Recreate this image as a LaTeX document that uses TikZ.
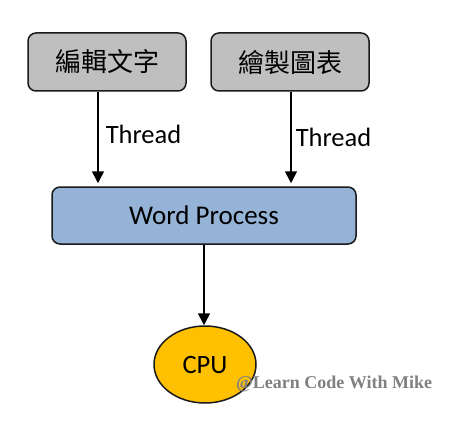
\documentclass[tikz,border=0pt]{standalone}
\usepackage{fontspec}
\setmainfont{Carlito}
\newfontfamily\cjkfont{Noto Sans CJK TC}
\newfontfamily\markfont{Liberation Serif}
\usepackage{tikz}
\usetikzlibrary{arrows.meta,positioning,shapes.geometric,calc}
\definecolor{BoxGray}{HTML}{BFBFBF}
\definecolor{ProcBlue}{HTML}{95B3D7}
\definecolor{CpuGold}{HTML}{FFC000}
\definecolor{MarkGray}{HTML}{808080}
\definecolor{Edge}{HTML}{1A1A1A}
\tikzset{
  graybox/.style={draw=Edge,line width=1.5pt,rounded corners=8pt,fill=BoxGray,align=center,
              minimum width=158pt,minimum height=58pt,inner sep=0pt,
              font=\cjkfont\fontsize{26}{30}\selectfont},
  procbox/.style={draw=Edge,line width=1.5pt,rounded corners=8pt,fill=ProcBlue,align=center,
              minimum width=304pt,minimum height=57pt,inner sep=0pt,
              font=\fontsize{27}{30}\selectfont},
  cpubox/.style={ellipse,draw=Edge,line width=1.5pt,fill=CpuGold,
              minimum width=102pt,minimum height=77pt,inner sep=0pt,
              font=\fontsize{26.5}{30}\selectfont},
  flow/.style={-{Triangle[length=12pt,width=12pt]},line width=1.5pt,draw=black},
  note/.style={font=\fontsize{26.5}{30}\selectfont,inner sep=0pt},
  signtext/.style={font=\markfont\bfseries\fontsize{18}{20}\selectfont,text=MarkGray,inner sep=0pt}
}
\begin{document}
\begin{tikzpicture}[x=1pt,y=-1pt]
  \useasboundingbox (0,0) rectangle (454,422);
  \node[graybox] (edit) at (107,62) {編輯文字};
  \node[graybox] (chart) at (290,62) {繪製圖表};
  \node[procbox] (proc) at (204,215.5) {Word Process};
  \node[cpubox] (cpu) at (205,364.5) {CPU};
  \node[signtext,anchor=west] (sign) at (236,384) {@Learn Code With Mike};
  \draw[flow] (edit.south -| 98,0) --
    node[note,pos=0.47,right=7pt]{Thread}
    ([yshift=3pt]proc.north -| 98,0);
  \draw[flow] (chart.south -| 291,0) --
    node[note,pos=0.5,right=4pt]{Thread}
    ([yshift=3pt]proc.north -| 291,0);
  \draw[flow] (proc.south -| 204,0) -- (cpu.north -| 204,0);
\end{tikzpicture}
\end{document}
